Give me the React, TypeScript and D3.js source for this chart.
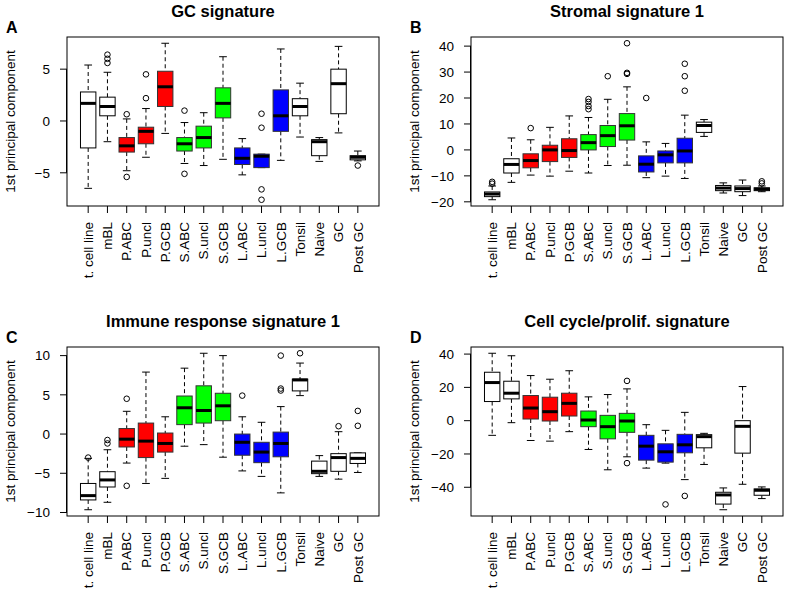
import React, { useEffect, useRef } from 'react';
import * as d3 from 'd3';

// groups on the x axis (same for every panel)
const groups = ['t. cell line', 'mBL', 'P.ABC', 'P.uncl', 'P.GCB', 'S.ABC', 'S.uncl', 'S.GCB',
  'L.ABC', 'L.uncl', 'L.GCB', 'Tonsil', 'Naive', 'GC', 'Post GC'];
const groupColors = ['#ffffff', '#ffffff', '#ff0000', '#ff0000', '#ff0000', '#00ff00', '#00ff00', '#00ff00',
  '#0000ff', '#0000ff', '#0000ff', '#ffffff', '#ffffff', '#ffffff', '#ffffff'];

// [lower whisker, q1, median, q3, upper whisker]
const gcStats = [
  [-6.5, -2.6, 1.7, 2.8, 5.4], [-2.0, 0.5, 1.4, 2.3, 4.7], [-4.8, -3.0, -2.4, -1.6, 0.2],
  [-3.5, -2.2, -1.0, -0.6, 1.2], [-1.2, 1.4, 3.3, 4.8, 7.5], [-4.1, -2.9, -2.2, -1.6, -0.15],
  [-4.3, -2.6, -1.6, -0.5, 0.8], [-3.7, 0.3, 1.7, 3.2, 6.2], [-5.2, -4.2, -3.6, -2.6, -1.7],
  [-4.5, -4.5, -3.4, -3.2, -3.2], [-3.8, -1.0, 0.5, 3.0, 6.95], [-1.55, 0.5, 1.4, 2.15, 3.65],
  [-3.9, -3.35, -2.0, -1.8, -1.6], [-1.15, 0.7, 3.6, 5.0, 7.2], [-3.85, -3.75, -3.5, -3.35, -2.9],
];
const gcOutliers = [[], [5.6, 6.0, 6.4], [0.65, -5.4], [2.2, 4.5], [], [1.0, -5.1], [], [], [],
  [0.7, -0.65, -6.6, -7.6], [], [], [], [], [-4.3]];
const gcTicks = [-5, 0, 5];

const stromalStats = [
  [-19.2, -18.0, -17.0, -16.2, -13.9], [-12.5, -8.9, -5.6, -3.4, 4.6], [-9.7, -6.9, -4.1, -1.5, 3.9],
  [-10.1, -4.5, 0, 1.8, 8.7], [-8.2, -2.9, -0.25, 4.3, 13.1], [-8.9, 0, 2.8, 5.9, 12.5],
  [-6.0, 1.3, 5.5, 9.4, 19.5], [-5.9, 3.8, 9.3, 14.0, 24.3], [-10.7, -8.5, -5.5, -2.3, 3.1],
  [-10.1, -5.0, -1.9, -0.4, 2.5], [-11.0, -5.0, -0.4, 4.5, 13.4], [5.2, 6.75, 9.4, 10.7, 11.7],
  [-16.6, -15.7, -14.7, -13.7, -12.7], [-17.6, -16.1, -14.9, -13.9, -11.6], [-16.1, -15.7, -15.1, -14.6, -13.9],
];
const stromalOutliers = [[-12.3, -13.0], [], [8.4], [], [], [15.7, 16.9, 18.5, 19.6], [28.4],
  [29.3, 29.7, 41.1], [20.0], [], [22.8, 28.4, 33.2], [], [], [], [-12.1, -12.9]];
const stromalTicks = [-20, -10, 0, 10, 20, 30, 40];

const immuneStats = [
  [-9.65, -8.4, -7.85, -6.3, -3.1], [-8.7, -6.75, -5.85, -4.8, -2.0], [-3.7, -1.65, -0.65, 0.7, 2.9],
  [-6.3, -3.0, -0.9, 1.4, 7.9], [-5.65, -2.3, -1.2, 0.13, 2.2], [-1.55, 1.2, 3.35, 4.85, 8.4],
  [-1.35, 1.4, 3.0, 6.15, 10.3], [-2.95, 1.7, 3.6, 5.2, 10.0], [-4.7, -2.7, -1.05, 0, 2.2],
  [-5.4, -3.65, -2.3, -1.05, 1.5], [-7.5, -2.9, -1.2, 0.25, 3.5], [4.9, 5.5, 6.9, 7.0, 9.05],
  [-5.4, -5.05, -4.75, -3.45, -2.75], [-5.75, -4.75, -3.0, -2.5, 0.3], [-4.9, -3.75, -3.1, -2.4, -2.4],
];
const immuneOutliers = [[-3.0], [-0.76, -1.2], [4.5, -6.6], [], [], [], [], [], [4.9], [],
  [5.55, 5.8, 10.0], [10.3], [], [1.0], [1.05, 2.95]];
const immuneTicks = [-10, -5, 0, 5, 10];

const cycleStats = [
  [-8.8, 11.5, 22.9, 29.1, 40.5], [-1.2, 13.1, 16.5, 23.7, 39.0], [-11.9, 1.0, 7.6, 15.1, 27.1],
  [-12.3, -0.2, 5.4, 14.1, 24.9], [-6.6, 2.8, 10.4, 16.5, 30.0], [-17.3, -3.6, 0.4, 5.8, 14.3],
  [-29.5, -10.9, -3.6, 3.2, 15.7], [-21.7, -7.0, -0.2, 4.4, 19.1], [-28.5, -23.7, -15.3, -8.8, -2.4],
  [-25.5, -24.9, -18.7, -13.9, -5.8], [-35.4, -19.3, -14.5, -8.2, 5.0], [-26.3, -16.3, -9.6, -8.4, -7.6],
  [-53.5, -50.1, -44.6, -43.0, -40.4], [-38.2, -19.5, -3.4, 0, 20.5], [-46.8, -44.8, -41.8, -41.0, -39.8],
];
const cycleOutliers = [[], [], [], [], [], [], [], [23.9, -25.5], [], [-50.3], [-45.2], [], [], [], []];
const cycleTicks = [-40, -20, 0, 20, 40];

const panels = [
  { letter: 'A', title: 'GC signature', stats: gcStats, outliers: gcOutliers, ticks: gcTicks, left: 67, top: 37 },
  { letter: 'B', title: 'Stromal signature 1', stats: stromalStats, outliers: stromalOutliers, ticks: stromalTicks, left: 471, top: 37 },
  { letter: 'C', title: 'Immune response signature 1', stats: immuneStats, outliers: immuneOutliers, ticks: immuneTicks, left: 67, top: 347 },
  { letter: 'D', title: 'Cell cycle/prolif. signature', stats: cycleStats, outliers: cycleOutliers, ticks: cycleTicks, left: 471, top: 347 },
];

const W = 787;
const H = 596;
const plotW = 312;
const plotH = 169;
const FONT = '"Liberation Sans", Arial, Helvetica, sans-serif';

const App = () => {
  const svgRef = useRef(null);

  useEffect(() => {
    const svg = d3.select(svgRef.current);
    svg.selectAll('*').remove();
    svg.append('rect').attr('width', W).attr('height', H).attr('fill', '#fff');

    panels.forEach(p => {
      const g = svg.append('g').style('font-family', FONT);

      // R style: range of everything plus 4% each side
      const all = p.stats.flat().concat(p.outliers.flat());
      const [mn, mx] = d3.extent(all);
      const pad = (mx - mn) * 0.04;
      const y = d3.scaleLinear().domain([mn - pad, mx + pad]).range([p.top + plotH, p.top]);
      const x = d3.scaleLinear().domain([-0.1, groups.length + 1.1]).range([p.left, p.left + plotW]);
      const bw = (x(1) - x(0)) * 0.8;

      // title + panel letter + y label
      g.append('text')
        .attr('x', p.left + plotW / 2).attr('y', p.top - 20)
        .attr('text-anchor', 'middle')
        .style('font-size', '16.5px').style('font-weight', 'bold')
        .text(p.title);
      g.append('text')
        .attr('x', p.left - 61).attr('y', p.top - 4)
        .style('font-size', '16px').style('font-weight', 'bold')
        .text(p.letter);
      g.append('text')
        .attr('transform', `translate(${p.left - 57},${p.top + plotH / 2}) rotate(-90)`)
        .attr('text-anchor', 'middle').attr('dy', '0.35em')
        .style('font-size', '13.5px')
        .text('1st principal component');

      // y axis
      const ya = g.append('g');
      p.ticks.forEach(t => {
        ya.append('line')
          .attr('x1', p.left - 7).attr('x2', p.left)
          .attr('y1', y(t)).attr('y2', y(t))
          .attr('stroke', '#000');
        ya.append('text')
          .attr('x', p.left - 17).attr('y', y(t)).attr('dy', '0.35em')
          .attr('text-anchor', 'end')
          .style('font-size', '13.5px')
          .text(d3.format('')(t).replace('-', '\u2212'));
      });
      ya.append('line')
        .attr('x1', p.left - 0.5).attr('x2', p.left - 0.5)
        .attr('y1', y(p.ticks[0])).attr('y2', y(p.ticks[p.ticks.length - 1]))
        .attr('stroke', '#000');

      // x axis
      const xa = g.append('g');
      groups.forEach((name, i) => {
        const cx = x(i + 1);
        xa.append('line')
          .attr('x1', cx).attr('x2', cx)
          .attr('y1', p.top + plotH).attr('y2', p.top + plotH + 7)
          .attr('stroke', '#000');
        xa.append('text')
          .attr('transform', `translate(${cx},${p.top + plotH + 16}) rotate(-90)`)
          .attr('text-anchor', 'end').attr('dy', '0.35em')
          .style('font-size', '13.5px')
          .text(name);
      });

      // boxes
      p.stats.forEach((s, i) => {
        const [lo, q1, med, q3, hi] = s;
        const cx = x(i + 1);
        const bg = g.append('g');
        const border = groupColors[i] === '#ffffff' ? '#000' : '#333';
        bg.append('line')
          .attr('x1', cx).attr('x2', cx).attr('y1', y(hi)).attr('y2', y(q3))
          .attr('stroke', '#000').attr('stroke-dasharray', '4,3');
        bg.append('line')
          .attr('x1', cx).attr('x2', cx).attr('y1', y(q1)).attr('y2', y(lo))
          .attr('stroke', '#000').attr('stroke-dasharray', '4,3');
        [lo, hi].forEach(v => {
          bg.append('line')
            .attr('x1', cx - bw / 4).attr('x2', cx + bw / 4)
            .attr('y1', y(v)).attr('y2', y(v))
            .attr('stroke', '#000');
        });
        bg.append('rect')
          .attr('x', cx - bw / 2).attr('width', bw)
          .attr('y', y(q3)).attr('height', Math.max(0.5, y(q1) - y(q3)))
          .attr('fill', groupColors[i]).attr('stroke', border);
        bg.append('line')
          .attr('x1', cx - bw / 2).attr('x2', cx + bw / 2)
          .attr('y1', y(med)).attr('y2', y(med))
          .attr('stroke', '#000').attr('stroke-width', 3);
        p.outliers[i].forEach(v => {
          bg.append('circle')
            .attr('cx', cx).attr('cy', y(v)).attr('r', 2.8)
            .attr('fill', 'none').attr('stroke', '#000');
        });
      });

      // frame
      g.append('rect')
        .attr('x', p.left).attr('y', p.top)
        .attr('width', plotW).attr('height', plotH)
        .attr('fill', 'none').attr('stroke', '#000');
    });
  }, []);

  return (
    <svg ref={svgRef} width={W} height={H} style={{ position: 'absolute', left: 0, top: 0 }} />
  );
};

export default App;
